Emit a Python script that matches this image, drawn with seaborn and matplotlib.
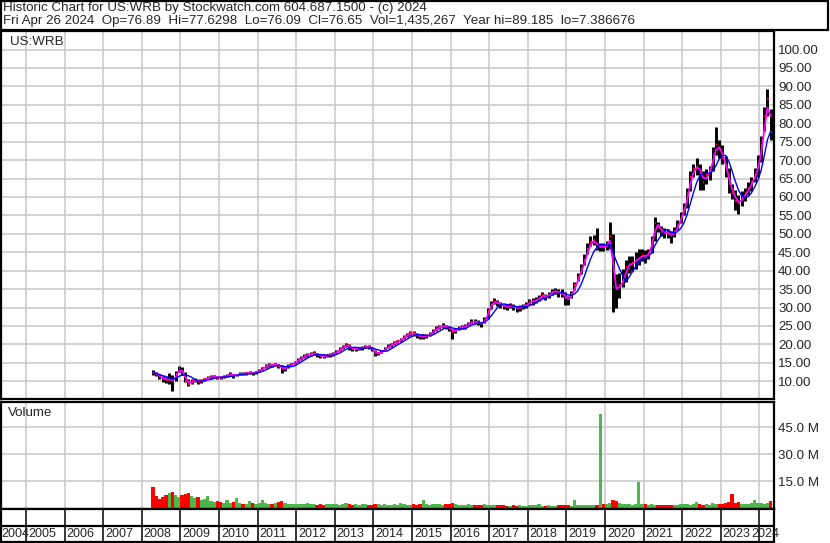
import numpy as np
import pandas as pd
import matplotlib
matplotlib.use('Agg')
import matplotlib.pyplot as plt
import matplotlib.ticker as mticker
from matplotlib.patches import Rectangle
import seaborn as sns

sns.set_style('white')
plt.rcParams['font.family'] = ['Liberation Sans', 'DejaVu Sans']

W, H = 830, 543

# monthly bars, Apr 2008 .. Apr 2024 (one line per year)
close = [
    12.3, 12.0, 11.2, 10.6, 10.4, 10.6, 10.1, 12.0, 13.5,
    12.4, 10.2, 9.4, 10.0, 10.3, 9.8, 10.1, 10.6, 11.0, 11.1, 11.3, 11.0,
    11.0, 11.2, 11.5, 11.9, 11.6, 11.8, 12.0, 12.0, 12.2, 12.3, 12.2, 12.5,
    12.9, 13.5, 14.2, 14.4, 14.3, 14.6, 14.2, 13.3, 13.5, 14.2, 14.6, 15.2,
    15.8, 16.3, 16.9, 17.2, 17.4, 17.6, 17.2, 16.8, 16.8, 17.0, 17.2, 17.4,
    18.0, 18.7, 19.4, 20.0, 19.2, 18.7, 18.8, 18.9, 19.0, 19.4, 19.3, 18.8,
    17.4, 17.6, 18.1, 18.8, 19.5, 19.9, 20.4, 20.8, 21.3, 22.1, 22.6, 23.0,
    23.0, 22.4, 22.1, 22.2, 22.3, 22.8, 23.5, 24.4, 24.8, 25.0, 24.8, 24.5,
    23.3, 23.9, 24.5, 24.8, 24.9, 25.6, 26.2, 26.2, 25.9, 25.5, 26.6, 29.0,
    31.0, 31.7, 31.2, 30.7, 30.4, 30.2, 30.6, 30.2, 29.8, 30.0, 30.4, 30.8,
    31.5, 31.8, 32.0, 32.7, 33.4, 32.9, 33.5, 34.3, 34.5, 34.0, 34.0, 32.5,
    32.2, 33.6, 36.0, 38.3, 40.5, 43.0, 46.0, 47.9, 48.3, 46.2, 46.6, 46.5,
    46.8, 49.5, 35.5, 35.0, 36.0, 37.5, 41.0, 41.8, 42.0, 42.9, 43.5, 44.3,
    43.8, 44.7, 48.3, 53.0, 51.9, 50.6, 50.3, 50.1, 49.5, 50.5, 52.4, 54.7,
    57.0, 61.0, 65.5, 67.5, 68.5, 66.5, 64.0, 66.0, 67.0, 71.5, 74.0, 73.0,
    70.5, 67.5, 63.5, 61.0, 59.0, 58.3, 59.8, 61.0, 62.4, 64.0, 66.0, 69.0,
    74.0, 82.0, 86.5, 77.5,
]
high = [
    13.0, 12.6, 12.1, 11.4, 11.2, 12.2, 11.6, 12.8, 14.2,
    13.8, 12.6, 10.6, 10.6, 10.8, 10.5, 10.5, 11.0, 11.5, 11.6, 11.7, 11.5,
    11.4, 11.6, 11.9, 12.4, 12.1, 12.1, 12.4, 12.4, 12.6, 12.7, 12.6, 12.8,
    13.2, 13.9, 14.6, 14.9, 14.8, 15.0, 14.8, 14.3, 14.0, 14.6, 15.0, 15.6,
    16.2, 16.8, 17.3, 17.7, 17.9, 18.1, 17.8, 17.2, 17.3, 17.5, 17.6, 17.9,
    18.4, 19.2, 19.9, 20.5, 20.1, 19.3, 19.3, 19.4, 19.5, 19.9, 19.8, 19.4,
    18.4, 18.0, 18.6, 19.3, 20.0, 20.4, 20.9, 21.3, 21.8, 22.6, 23.1, 23.6,
    23.6, 23.2, 22.7, 22.8, 22.9, 23.4, 24.1, 25.0, 25.4, 25.7, 25.4, 25.1,
    24.2, 24.4, 25.0, 25.4, 25.5, 26.2, 26.8, 26.8, 26.5, 26.1, 27.4, 29.8,
    31.8, 32.5, 32.0, 31.4, 31.1, 30.9, 31.3, 30.9, 30.5, 30.7, 31.1, 31.5,
    32.4, 32.6, 32.8, 33.5, 34.2, 33.7, 34.3, 35.1, 35.4, 35.0, 35.0, 34.2,
    33.2, 34.6, 37.0, 39.4, 41.8, 44.4, 47.5, 49.3, 49.8, 51.5, 47.6, 47.6,
    48.0, 53.3, 50.0, 39.0, 39.5, 40.5, 43.0, 44.0, 44.0, 45.0, 46.0, 46.0,
    45.5, 46.0, 49.5, 54.5, 53.3, 52.0, 51.5, 51.3, 50.8, 51.8, 53.8, 56.0,
    58.5, 62.5, 67.0, 69.0, 70.5, 69.0, 67.0, 67.5, 68.5, 73.5, 79.0, 75.5,
    74.0, 71.0, 68.0, 63.5, 62.0, 60.5, 61.5, 62.5, 64.0, 65.5, 68.0, 71.5,
    76.5, 84.5, 89.2, 84.0,
]
low = [
    11.8, 11.4, 10.6, 9.8, 9.6, 9.2, 7.4, 10.2, 12.4,
    11.6, 9.8, 8.7, 9.2, 9.7, 9.4, 9.5, 10.0, 10.5, 10.6, 10.8, 10.6,
    10.6, 10.8, 11.1, 11.4, 11.0, 11.3, 11.6, 11.6, 11.8, 11.9, 11.8, 12.1,
    12.5, 13.0, 13.7, 14.0, 13.8, 14.1, 13.6, 12.2, 12.8, 13.6, 14.1, 14.7,
    15.2, 15.8, 16.4, 16.7, 16.8, 17.0, 16.7, 16.2, 16.3, 16.5, 16.7, 16.9,
    17.4, 18.1, 18.8, 19.4, 18.6, 18.2, 18.3, 18.4, 18.5, 18.9, 18.7, 18.2,
    16.8, 17.0, 17.6, 18.3, 19.0, 19.4, 19.9, 20.3, 20.7, 21.5, 22.1, 22.4,
    22.4, 21.8, 21.5, 21.6, 21.7, 22.2, 22.9, 23.7, 24.1, 24.4, 24.2, 23.6,
    21.5, 23.0, 23.9, 24.2, 24.3, 24.9, 25.6, 25.6, 25.3, 24.8, 25.8, 27.0,
    29.5, 30.9, 30.4, 29.9, 29.6, 29.4, 29.8, 29.3, 28.8, 29.2, 29.6, 30.0,
    30.6, 30.8, 31.2, 31.9, 32.6, 32.1, 32.7, 33.5, 33.7, 32.8, 33.0, 30.7,
    30.8, 32.6, 34.8, 37.2, 39.2, 41.6, 44.6, 46.6, 47.0, 45.6, 45.4, 45.4,
    45.5, 46.0, 28.9, 30.0, 32.5, 35.5, 37.0, 39.5, 40.0, 40.5, 41.5, 42.5,
    42.0, 43.2, 44.7, 48.0, 50.5, 49.3, 49.0, 48.8, 47.4, 49.2, 51.0, 53.0,
    55.0, 57.0, 61.5, 65.5, 66.0, 61.9, 62.0, 63.5, 64.5, 67.0, 71.5, 70.5,
    69.0, 65.5, 61.0, 59.5, 56.5, 55.5, 57.5, 59.0, 60.5, 61.5, 64.0, 65.5,
    69.5, 78.0, 82.0, 75.5,
]
# volume in millions of shares
volume = [
    11.5, 6.5, 5.0, 6.0, 7.5, 8.5, 9.0, 7.0, 6.0,
    7.5, 8.0, 8.5, 6.5, 5.5, 6.0, 4.5, 5.0, 6.5, 4.0, 3.5, 4.0,
    3.5, 3.0, 4.5, 3.0, 3.5, 5.5, 3.0, 2.5, 2.5, 4.0, 3.0, 2.5,
    3.0, 4.5, 3.0, 2.5, 2.5, 3.0, 3.5, 4.0, 3.0, 2.5, 2.0, 2.5,
    2.5, 2.0, 2.0, 3.0, 2.0, 2.0, 1.8, 2.5, 1.8, 2.0, 2.5, 2.0,
    2.0, 1.8, 2.5, 3.0, 2.0, 1.8, 2.0, 1.6, 2.0, 2.2, 1.8, 1.5,
    2.5, 2.0, 1.8, 2.0, 1.5, 1.6, 2.0, 1.8, 3.0, 2.0, 1.6, 1.8,
    2.0, 1.8, 2.5, 4.5, 2.0, 1.8, 2.0, 2.5, 2.0, 1.8, 2.0, 2.5,
    3.0, 2.2, 1.8, 1.6, 1.5, 2.0, 1.6, 1.4, 1.5, 1.8, 2.0, 1.6,
    1.8, 1.5, 1.4, 1.6, 1.5, 1.2, 1.3, 1.4, 1.2, 1.5, 1.3, 1.2,
    1.5, 1.6, 1.4, 2.0, 1.3, 1.2, 1.4, 1.2, 1.3, 1.5, 1.8, 1.6,
    1.4, 1.3, 4.5, 1.6, 1.5, 1.4, 1.5, 1.6, 1.5, 1.8, 52.5, 2.5,
    2.0, 3.0, 4.5, 4.0, 3.0, 2.5, 2.0, 2.0, 1.8, 2.0, 14.5, 2.0,
    2.0, 1.8, 2.0, 1.5, 1.6, 1.5, 1.8, 1.4, 1.6, 1.5, 1.8, 2.0,
    2.0, 2.5, 1.8, 2.0, 3.5, 2.2, 1.8, 2.0, 1.6, 2.8, 2.2, 2.0,
    2.5, 3.0, 3.5, 7.9, 2.8, 3.5, 2.5, 2.0, 2.2, 2.8, 4.5, 3.0,
    3.0, 2.5, 3.0, 4.0,
]

years = list(range(2004, 2025))
price_ticks = list(range(10, 101, 5))
vol_ticks = [15, 30, 45]

header1 = 'Historic Chart for US:WRB by Stockwatch.com 604.687.1500 - (c) 2024'
header2 = ('Fri Apr 26 2024  Op=76.89  Hi=77.6298  Lo=76.09  Cl=76.65  '
           'Vol=1,435,267  Year hi=89.185  lo=7.386676')

months = pd.period_range('2008-04', '2024-04', freq='M')
df = pd.DataFrame({'close': close, 'high': high, 'low': low, 'vol': volume})
df['t'] = months.year + (months.month - 0.5) / 12
df['ma_fast'] = df['close'].rolling(2, min_periods=1).mean()
df['ma_slow'] = df['close'].rolling(5, min_periods=1).mean()
df['up'] = df['close'].diff() > 0

x_left, x_right = 2004.353, 2024.379
GRID = '#c8c8c8'
FS = 9.6
FS_YEAR = 9.0


def px_axes(x0, y0, x1, y1):
    return fig.add_axes([x0 / W, 1 - y1 / H, (x1 - x0) / W, (y1 - y0) / H])


fig = plt.figure(figsize=(W / 100, H / 100), dpi=100)

# header box
fig.patches.append(Rectangle((1 / W, 1 - 30 / H), 827 / W, 29 / H, transform=fig.transFigure,
                             fill=False, edgecolor='black', lw=1.6))
fig.text(3 / W, 1 - 8 / H, header1, fontsize=FS, va='center', ha='left')
fig.text(3 / W, 1 - 21 / H, header2, fontsize=FS, va='center', ha='left')

# price panel
ax = px_axes(1, 31, 774, 399)
ax.set_xlim(x_left, x_right)
ax.set_ylim(25 - 73 / 3.686, 25 + 295 / 3.686)
for y in price_ticks:
    ax.axhline(y, color=GRID, lw=1.1, zorder=0)
for yr in years[1:]:
    ax.axvline(yr, color=GRID, lw=1.1, zorder=0)
ax.vlines(df['t'], df['low'], df['high'], color='black', lw=2.1, zorder=2)
ax.hlines(df['close'], df['t'], df['t'] + 0.035, color='red', lw=1.6, zorder=3)
sns.lineplot(data=df, x='t', y='ma_fast', color='#ff00ff', lw=1.3, ax=ax, zorder=4)
sns.lineplot(data=df, x='t', y='ma_slow', color='#0000ff', lw=1.0, ax=ax, zorder=5)
ax.yaxis.tick_right()
ax.set_yticks(price_ticks)
ax.yaxis.set_major_formatter(mticker.FormatStrFormatter('%.2f'))
ax.tick_params(axis='y', length=0, pad=3, labelsize=FS)
ax.set_xticks([])
ax.set_xlabel('')
ax.set_ylabel('')
ax.text(9 / 773, 1 - 11 / 368, 'US:WRB', transform=ax.transAxes, fontsize=FS,
        va='center', ha='left')

# volume panel
av = px_axes(1, 402, 774, 509)
av.set_xlim(x_left, x_right)
av.set_ylim(-0.55, 58.9)
for y in vol_ticks:
    av.axhline(y, color=GRID, lw=1.1, zorder=0)
for yr in years[1:]:
    av.axvline(yr, color=GRID, lw=1.1, zorder=0)
av.bar(df['t'], df['vol'], width=1 / 12, bottom=0,
       color=np.where(df['up'], '#4cb84c', '#ff0000'), lw=0, zorder=2)
av.yaxis.tick_right()
av.set_yticks(vol_ticks)
av.yaxis.set_major_formatter(mticker.FormatStrFormatter('%.1f M'))
av.tick_params(axis='y', length=0, pad=3, labelsize=FS)
av.set_xticks([])
av.text(7 / 773, 1 - 11 / 107, 'Volume', transform=av.transAxes, fontsize=FS,
        va='center', ha='left')

# date strip
ad = px_axes(1, 509, 774, 542)
ad.set_xlim(x_left, x_right)
ad.set_ylim(0, 1)
ad.axhline(0.5, color='black', lw=1.6)
ad.vlines(years, 0, 1, color='black', lw=1.1)
for yr in years:
    if yr == years[0]:
        xpos = x_left + 0.02
    elif yr == years[-1]:
        xpos = yr - 0.21
    else:
        xpos = yr + 0.05
    ad.text(xpos, 0.25, str(yr), fontsize=FS_YEAR, va='center', ha='left', clip_on=False)
ad.set_xticks([])
ad.set_yticks([])

for a in (ax, av, ad):
    for s in a.spines.values():
        s.set_color('black')
        s.set_linewidth(1.6)

fig.savefig('out.png', dpi=100)
